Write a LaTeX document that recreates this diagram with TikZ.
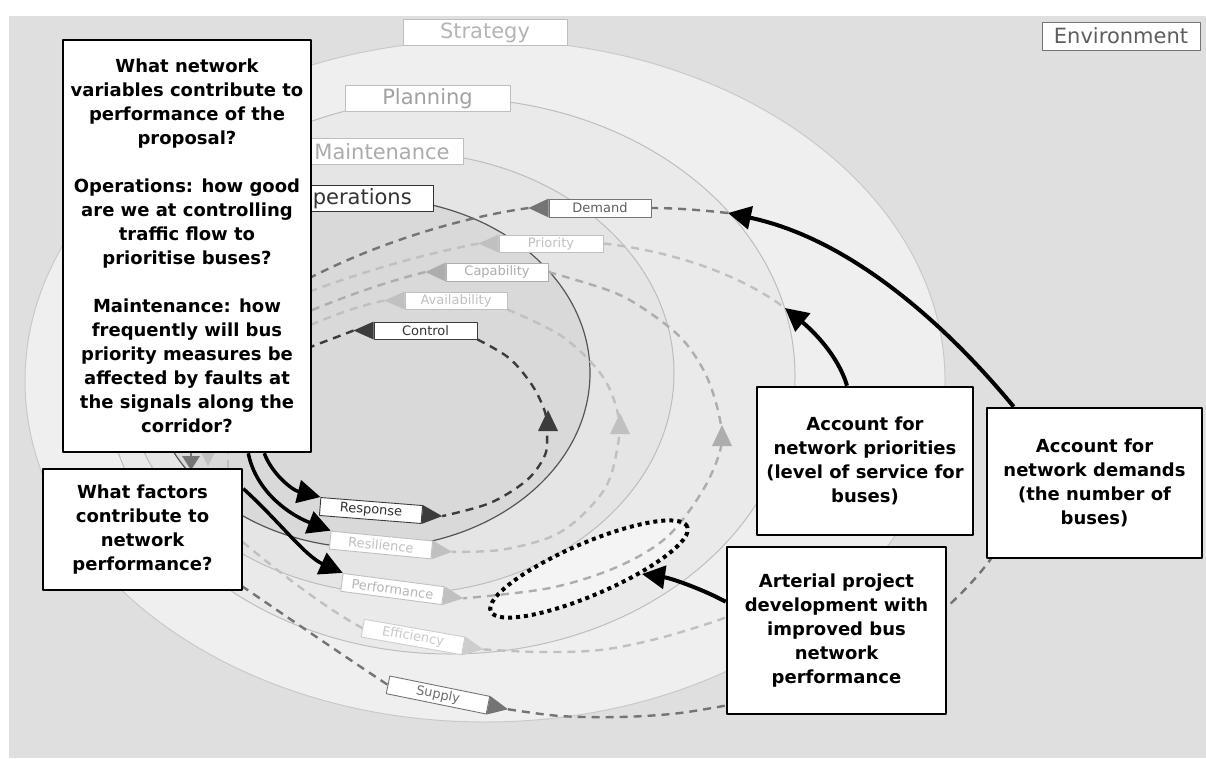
\documentclass[tikz,border=0pt]{standalone}
\usepackage{fontspec}
\setmainfont{DejaVu Sans}
\usetikzlibrary{calc,arrows.meta}
\definecolor{bgG}{HTML}{DFDFDF}
\definecolor{ringS}{HTML}{EFEFEF}
\definecolor{ringP}{HTML}{EAEAEA}
\definecolor{ringM}{HTML}{E5E5E5}
\definecolor{ringO}{HTML}{D9D9D9}
\definecolor{ringSd}{HTML}{C9C9C9}
\definecolor{ringPd}{HTML}{BEBEBE}
\definecolor{ringMd}{HTML}{BDBDBD}
\definecolor{ringOd}{HTML}{555555}
\definecolor{cDark}{HTML}{3C3C3C}
\definecolor{cMid}{HTML}{747474}
\definecolor{cCap}{HTML}{ADADAD}
\definecolor{cLight}{HTML}{C0C0C0}
\definecolor{tDark}{HTML}{333333}
\definecolor{tMid}{HTML}{5E5E5E}
\definecolor{dotFill}{HTML}{F4F4F4}
\pgfdeclarelayer{back}
\pgfdeclarelayer{mid}
\pgfsetlayers{back,mid,main}
\begin{document}
\begin{tikzpicture}[x=1pt,y=-1pt,line join=round,
  flowbox/.style={draw=#1, fill=white, line width=0.9pt, minimum width=102pt, minimum height=18pt, inner sep=0pt, font=\fontsize{13}{14}\selectfont},
  layerbox/.style={draw=#1, fill=white, line width=1pt, minimum height=26pt, inner sep=0pt, font=\fontsize{21}{22}\selectfont},
  qbox/.style={draw=black, fill=white, line width=2.6pt, align=center, inner sep=0pt, font=\bfseries\fontsize{18}{24}\selectfont},
  dloop/.style={line width=2.4pt, dash pattern=on 8pt off 6pt, draw=#1},
  bigarrow/.style={line width=4pt, -{Triangle[length=23pt,width=23pt]}},
  dotline/.style={line width=4pt, dash pattern=on 4pt off 4pt, draw=black}]
\useasboundingbox (0,0) rectangle (1206,758);

\begin{pgfonlayer}{back}
\fill[white] (0,0) rectangle (1206,758);
\fill[bgG] (9,16) rectangle (1206,758);
\filldraw[fill=ringS, draw=ringSd, line width=1pt] (485,381) ellipse [x radius=460pt, y radius=341pt];
\filldraw[fill=ringP, draw=ringPd, line width=1pt] (450,376) ellipse [x radius=345pt, y radius=278pt];
\filldraw[fill=ringM, draw=ringMd, line width=1pt] (400,373) ellipse [x radius=274pt, y radius=221pt];
\filldraw[fill=ringO, draw=ringOd, line width=1.2pt] (370,373) ellipse [x radius=220pt, y radius=175pt];
\fill[dotFill, rotate around={23.3:(589,569)}] (589,569) ellipse [x radius=107pt, y radius=26pt];
\end{pgfonlayer}

% layer labels
\node[layerbox=ringPd, text=ringSd!90!black, minimum width=164pt] (strat) at (485,32.5) {Strategy};
\node[layerbox=ringPd, text=ringPd!85!black, minimum width=165pt] (plan) at (427.5,98.5) {Planning};
\node[layerbox=ringPd, text=ringPd!90!black, minimum width=162pt] (maint) at (382,151.5) {Maintenance};
\node[layerbox=tDark, text=tDark, minimum width=158pt] (oper) at (354,198.5) {Operations};
\node[layerbox=cMid, text=tMid, minimum width=158pt, minimum height=28pt] (env) at (1121,36) {Environment};

% flow labels (top, arrows pointing left)
\node[flowbox=cMid, text=tMid] (dem) at (600,208) {Demand};
\node[flowbox=cLight, text=cLight, minimum height=17pt, minimum width=104pt] (pri) at (551,243.5) {Priority};
\node[flowbox=cCap, text=cCap] (cap) at (497,272) {Capability};
\node[flowbox=cLight, text=cLight, minimum height=17pt] (ava) at (456,300.5) {Availability};
\node[flowbox=cDark, text=tDark, minimum height=17pt, minimum width=103pt] (ctl) at (425.5,330.5) {Control};
% flow labels (bottom, arrows pointing right)
\node[flowbox=cDark, text=tDark, rotate=-4.5] (resp) at (371,510.5) {Response};
\node[flowbox=cLight, text=cLight, rotate=-5.5] (resi) at (381,545) {Resilience};
\node[flowbox=cLight, text=cLight!95!black, rotate=-7.5] (perf) at (392.5,589) {Performance};
\node[flowbox=cLight!80!white, text=cLight!85!white, rotate=-10] (effi) at (413,637) {Efficiency};
\node[flowbox=cMid, text=tMid!90!white, rotate=-11.5] (supp) at (438,695) {Supply};

\coordinate (demtip) at ($(dem.west)!20pt!90:(dem.north west)$);
\coordinate (pritip) at ($(pri.west)!20pt!90:(pri.north west)$);
\coordinate (captip) at ($(cap.west)!20pt!90:(cap.north west)$);
\coordinate (avatip) at ($(ava.west)!20pt!90:(ava.north west)$);
\coordinate (ctltip) at ($(ctl.west)!20pt!90:(ctl.north west)$);
\coordinate (resptip) at ($(resp.east)!20pt!-90:(resp.north east)$);
\coordinate (resitip) at ($(resi.east)!20pt!-90:(resi.north east)$);
\coordinate (perftip) at ($(perf.east)!20pt!-90:(perf.north east)$);
\coordinate (effitip) at ($(effi.east)!20pt!-90:(effi.north east)$);
\coordinate (supptip) at ($(supp.east)!20pt!-90:(supp.north east)$);

\fill[cMid] (dem.north west) -- (demtip) -- (dem.south west) -- cycle;
\fill[cLight] (pri.north west) -- (pritip) -- (pri.south west) -- cycle;
\fill[cCap] (cap.north west) -- (captip) -- (cap.south west) -- cycle;
\fill[cLight] (ava.north west) -- (avatip) -- (ava.south west) -- cycle;
\fill[cDark] (ctl.north west) -- (ctltip) -- (ctl.south west) -- cycle;
\fill[cDark] (resp.north east) -- (resptip) -- (resp.south east) -- cycle;
\fill[cLight] (resi.north east) -- (resitip) -- (resi.south east) -- cycle;
\fill[cLight] (perf.north east) -- (perftip) -- (perf.south east) -- cycle;
\fill[cLight!80!white] (effi.north east) -- (effitip) -- (effi.south east) -- cycle;
\fill[cMid] (supp.north east) -- (supptip) -- (supp.south east) -- cycle;

% free ends of connectors
\coordinate (demin) at (728,213);
\coordinate (priin) at (785,308);
\coordinate (etip) at (642,574);

% dashed loops
\begin{pgfonlayer}{mid}
% Control / Response
\draw[dloop=cDark] (ctltip) .. controls (340,336) and (320,343) .. (298,352);
\draw[dloop=cDark] plot[smooth, tension=0.55] coordinates {(ctl.south east) (509,358) (532,385) (545,412) (547,433) (545,455) (527,480) (490,503) (resptip)};
\fill[cDark] (548,410) -- (558,431) -- (538,431) -- cycle;
% Availability / Resilience
\draw[dloop=cLight] (avatip) .. controls (350,308) and (330,317) .. (298,330);
\draw[dloop=cLight] plot[smooth, tension=0.55] coordinates {(ava.south east) (563,337) (603,377) (619,420) (615,460) (604,490) (577,520) (548,538) (500,550) (resitip)};
\fill[cLight] (620,413) -- (630,434) -- (610,434) -- cycle;
% Capability / Performance
\draw[dloop=cCap] (captip) .. controls (385,282) and (340,298) .. (298,316);
\draw[dloop=cCap] plot[smooth, tension=0.55] coordinates {(cap.east) (613,292) (650,313) (683,340) (706,375) (719,415) (721,447) (703,490) (667,537) (617,567) (550,588) (perftip)};
\fill[cCap] (722,425) -- (732,446) -- (712,446) -- cycle;
% Priority / Efficiency
\draw[dloop=cLight] (pritip) .. controls (420,255) and (360,272) .. (298,296);
\draw[dloop=cLight] (pri.east) .. controls (680,252) and (745,278) .. (priin);
\draw[dloop=cLight] plot[smooth, tension=0.55] coordinates {(effitip) (540,652) (600,650) (660,638) (727,617) (760,600)};
\draw[dloop=cLight] (232,533) .. controls (270,565) and (320,605) .. (effi.west);
% Demand / Supply
\draw[dloop=cMid] (demtip) .. controls (470,216) and (380,240) .. (298,284);
\draw[dloop=cMid] (demin) .. controls (700,210) and (675,208) .. (dem.east);
\draw[dloop=cMid] (1008,532) .. controls (990,565) and (965,592) .. (930,622);
\draw[dloop=cMid] plot[smooth, tension=0.55] coordinates {(supptip) (560,716) (620,717) (680,713) (745,702)};
\draw[dloop=cMid] (230,578) .. controls (280,612) and (335,650) .. (supp.west);
% left side (between the question boxes)
\draw[cMid, line width=2.4pt] (191,445) -- (191,457);
\fill[cMid] (182,456) -- (200,456) -- (191,470) -- cycle;
\fill[cLight] (201,452) -- (215,452) -- (208,466) -- cycle;
\draw[dloop=cLight] (228,446) -- (228,470);
\end{pgfonlayer}

% dotted outline of the project area
\draw[dotline, rotate around={23.3:(589,569)}] (589,569) ellipse [x radius=107pt, y radius=26pt];

% question / annotation boxes
\node[qbox, minimum width=248pt, minimum height=412pt] (A) at (187,246) {What network\\variables contribute to\\performance of the\\proposal?\\[24pt]Operations: how good\\are we at controlling\\traffic flow to\\prioritise buses?\\[24pt]Maintenance: how\\frequently will bus\\priority measures be\\affected by faults at\\the signals along the\\corridor?};
\node[qbox, minimum width=199pt, minimum height=121pt] (B) at (142.5,529.5) {What factors\\contribute to\\network\\performance?};
\node[qbox, minimum width=216pt, minimum height=148pt] (C) at (865,461) {Account for\\network priorities\\(level of service for\\buses)};
\node[qbox, minimum width=215pt, minimum height=150pt] (D) at (1094.5,483) {Account for\\network demands\\(the number of\\buses)};
\node[qbox, minimum width=219pt, minimum height=167pt] (E) at (836.5,630.5) {Arterial project\\development with\\improved bus\\network\\performance};

% black arrows
\coordinate (a1) at ([xshift=-48pt]A.south east);
\coordinate (a2) at ([xshift=-64pt]A.south east);
\coordinate (b1) at ([yshift=-21pt]B.north east);
\coordinate (c1) at ([xshift=-18pt]C.north);
\coordinate (d1) at ([xshift=28pt]D.north west);
\coordinate (e1) at ([yshift=-56pt]E.north west);
\draw[bigarrow, line width=3.5pt] (a1) .. controls (272,474) and (292,490) .. (resp.north west);
\draw[bigarrow, line width=3.5pt] (a2) .. controls (256,492) and (290,515) .. (resi.north west);
\draw[bigarrow, line width=3.5pt] (b1) .. controls (278,520) and (305,556) .. (perf.north west);
\draw[bigarrow] (c1) .. controls (838,355) and (812,330) .. (priin);
\draw[bigarrow] (d1) .. controls (951,331) and (855,240) .. (demin);
\draw[bigarrow] (e1) .. controls (700,588) and (670,578) .. (etip);
\end{tikzpicture}
\end{document}
